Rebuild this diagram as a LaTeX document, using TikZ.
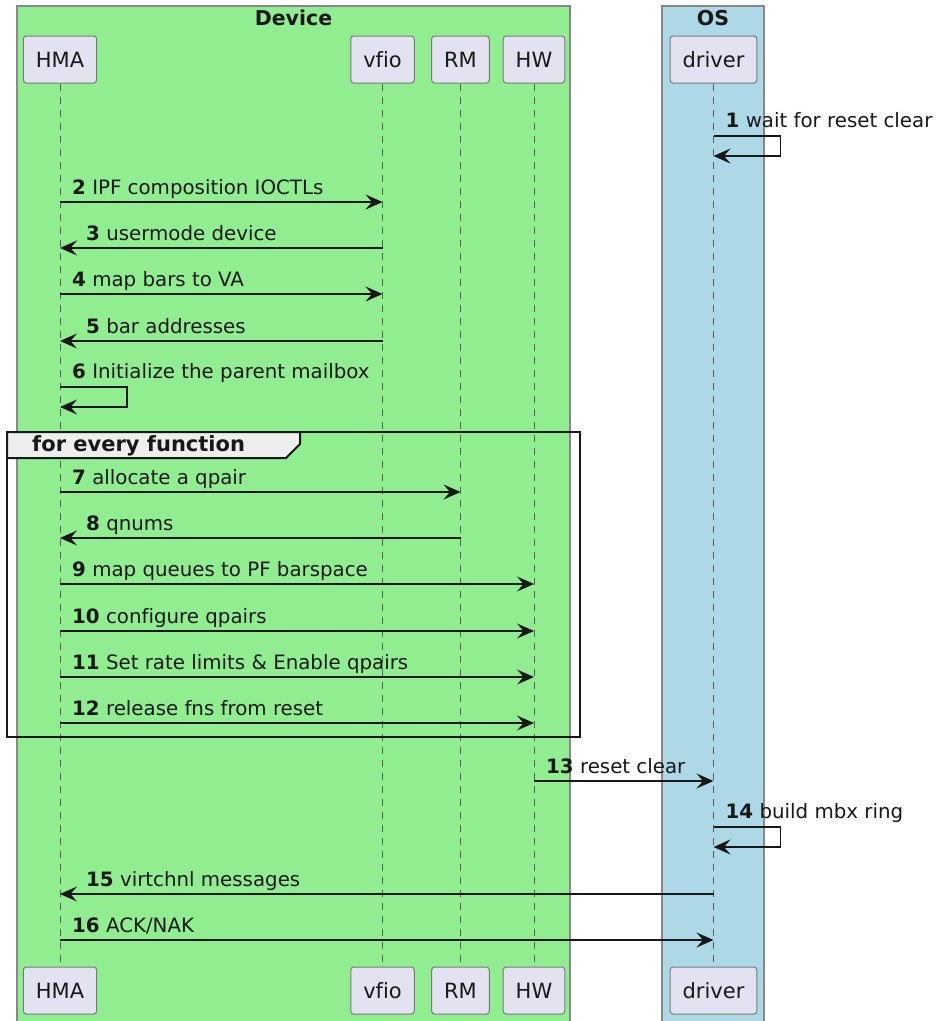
\documentclass[tikz,border=0pt]{standalone}
\usepackage{fontspec}
\setmainfont[Ligatures={NoCommon}]{DejaVu Sans}
\usetikzlibrary{arrows.meta}

\definecolor{devgreen}{HTML}{90EE90}
\definecolor{osblue}{HTML}{ADD8E6}
\definecolor{partfill}{HTML}{E2E2F0}
\definecolor{partline}{HTML}{7A7A7A}
\definecolor{boxline}{HTML}{888888}
\definecolor{ink}{HTML}{181818}
\definecolor{tabfill}{HTML}{EEEEEE}

% message from lifeline #2 to lifeline #3 at height #4, label #5 with offset #6
\newcommand{\seqmsg}[6]{%
  \coordinate (#1) at (0,#4);
  \draw[msg] (#2 |- #1) -- (#3 |- #1);
  \path (#2 |- #1) ++(#6,-7.5) node[lbl] (#1l) {#5};
}
% self message on lifeline #2 at height #3
\newcommand{\selfmsg}[4]{%
  \coordinate (#1) at (0,#3);
  \draw[msg] (#2 |- #1) -- ++(67,0) -- ++(0,20) -- ++(-67,0);
  \path (#2 |- #1) ++(12,-9) node[lbl] (#1l) {#4};
}

\begin{document}
\begin{tikzpicture}[x=1pt,y=-1pt,
  part/.style={draw=partline, line width=1pt, fill=partfill, rounded corners=3pt,
    minimum height=47pt, inner xsep=12.5pt, text=ink,
    font=\fontsize{21}{25}\selectfont},
  lifeline/.style={draw=ink!70, line width=0.8pt, dash pattern=on 7pt off 6pt},
  msg/.style={draw=ink, line width=1.4pt,
    -{Stealth[length=17pt,width=15pt,inset=6.5pt]}},
  lbl/.style={anchor=base west, inner sep=0pt, text=ink,
    font=\fontsize{19.8}{23}\selectfont},
  grouptitle/.style={anchor=base, inner sep=0pt, text=ink,
    font=\fontsize{20.5}{24}\selectfont\bfseries},
]
\useasboundingbox (0,0) rectangle (940,1021);

% participant groups
\fill[devgreen] (17,6) rectangle (570,1030);
\draw[boxline, line width=1.2pt] (17,1030) -- (17,6) -- (570,6) -- (570,1030);
\fill[osblue] (662,6) rectangle (764,1030);
\draw[boxline, line width=1.2pt] (662,1030) -- (662,6) -- (764,6) -- (764,1030);
\node[grouptitle] (devtitle) at (293.5,25) {Device};
\node[grouptitle] (ostitle) at (713,25) {OS};

% participants, head and foot
\node[part] (hmaT) at (60,59.5) {HMA};
\node[part] (vfioT) at (382.5,59.5) {vfio};
\node[part] (rmT) at (460.5,59.5) {RM};
\node[part] (hwT) at (534,59.5) {HW};
\node[part] (drvT) at (713.5,59.5) {driver};
\node[part] (hmaB) at (60,990.5) {HMA};
\node[part] (vfioB) at (382.5,990.5) {vfio};
\node[part] (rmB) at (460.5,990.5) {RM};
\node[part] (hwB) at (534,990.5) {HW};
\node[part] (drvB) at (713.5,990.5) {driver};

% lifelines
\foreach \p in {hma,vfio,rm,hw,drv}
  \draw[lifeline] (\p T.south) -- (\p B.north);

% loop frame
\draw[ink, line width=2.5pt] (7,432) rectangle (580,737);
\draw[ink, line width=2pt, fill=tabfill]
  (7,432) -- (300,432) -- (300,444) -- (286,458) -- (7,458) -- cycle;
\node[anchor=base west, inner sep=0pt, text=ink,
  font=\fontsize{21}{25}\selectfont\bfseries] (looptitle) at (32,451)
  {for every function};

% messages
\selfmsg{m1}{drvT}{136}{\textbf{1} wait for reset clear}
\seqmsg{m2}{hmaT}{vfioT}{202}{\textbf{2} IPF composition IOCTLs}{12}
\seqmsg{m3}{vfioT}{hmaT}{248}{\textbf{3} usermode device}{-296.5}
\seqmsg{m4}{hmaT}{vfioT}{294}{\textbf{4} map bars to VA}{12}
\seqmsg{m5}{vfioT}{hmaT}{341}{\textbf{5} bar addresses}{-296.5}
\selfmsg{m6}{hmaT}{387}{\textbf{6} Initialize the parent mailbox}
\seqmsg{m7}{hmaT}{rmT}{492}{\textbf{7} allocate a qpair}{12}
\seqmsg{m8}{rmT}{hmaT}{538}{\textbf{8} qnums}{-374.5}
\seqmsg{m9}{hmaT}{hwT}{584}{\textbf{9} map queues to PF barspace}{12}
\seqmsg{m10}{hmaT}{hwT}{631}{\textbf{10} configure qpairs}{12}
\seqmsg{m11}{hmaT}{hwT}{677}{\textbf{11} Set rate limits \& Enable qpairs}{12}
\seqmsg{m12}{hmaT}{hwT}{723}{\textbf{12} release fns from reset}{12}
\seqmsg{m13}{hwT}{drvT}{781}{\textbf{13} reset clear}{12}
\selfmsg{m14}{drvT}{827}{\textbf{14} build mbx ring}
\seqmsg{m15}{drvT}{hmaT}{894}{\textbf{15} virtchnl messages}{-627.5}
\seqmsg{m16}{hmaT}{drvT}{940}{\textbf{16} ACK/NAK}{12}
\end{tikzpicture}
\end{document}
